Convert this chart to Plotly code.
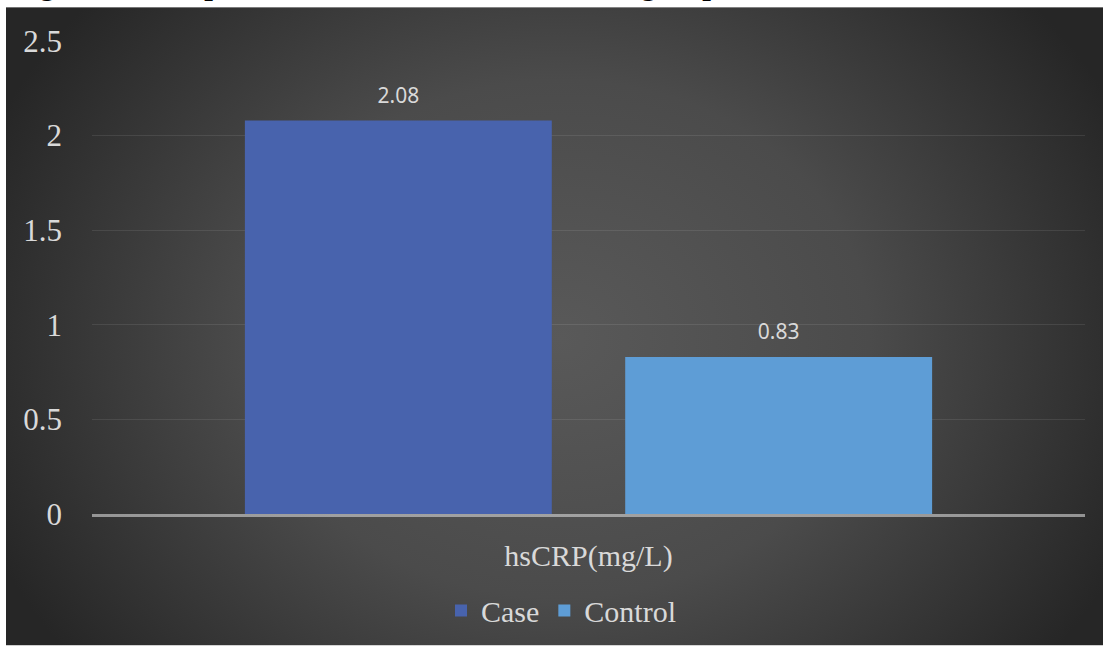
import base64
import plotly.graph_objects as go

# ---- data ----
categories = ["hsCRP(mg/L)"]
series_names = ["Case", "Control"]
case_values = [2.08]
control_values = [0.83]
y_ticks = [0, 0.5, 1, 1.5, 2, 2.5]

# ---- canvas / plot-area geometry (pixels) ----
W, H = 1103, 648
ML, MR, MT, MB = 92, 18, 41, 132
PW, PH = W - ML - MR, H - MT - MB


def px_to_paper_x(px):
    return (px - ML) / PW


def px_to_paper_y(py):
    return (H - MB - py) / PH


# dark panel with a soft radial gradient behind the chart
PANEL_X0, PANEL_Y0 = 6, 7
PANEL_W, PANEL_H = W - PANEL_X0, H - PANEL_Y0
bg_svg = f"""<svg xmlns="http://www.w3.org/2000/svg" width="{PANEL_W}" height="{PANEL_H}"
 viewBox="0 0 {PANEL_W} {PANEL_H}" preserveAspectRatio="none">
<defs><radialGradient id="bg" gradientUnits="userSpaceOnUse" cx="0" cy="0" r="1"
 gradientTransform="translate(554,333) scale(620,520)">
<stop offset="0" stop-color="#595959"/>
<stop offset="0.5" stop-color="#4b4b4b"/>
<stop offset="1" stop-color="#262626"/>
</radialGradient></defs>
<rect x="0" y="0" width="{PANEL_W}" height="{PANEL_H}" fill="url(#bg)"/>
</svg>"""
bg_uri = "data:image/svg+xml;base64," + base64.b64encode(bg_svg.encode()).decode()

LABEL_COLOR = "#d9d9d9"
SERIF = "Liberation Serif"

bar_colors = {"Case": "#4863ad", "Control": "#5e9dd6"}
values = {"Case": case_values, "Control": control_values}

fig = go.Figure()
for name in series_names:
    fig.add_trace(go.Bar(
        name=name,
        x=categories,
        y=values[name],
        marker=dict(color=bar_colors[name], line=dict(width=0)),
        texttemplate="<span style='font-size:21px'>%{y:.2f}</span><br>\u00a0",
        textposition="outside",
        textfont=dict(family="Noto Sans", size=9, color=LABEL_COLOR),
        cliponaxis=False,
        hoverinfo="skip",
    ))

fig.update_layout(
    width=W,
    height=H,
    margin=dict(l=ML, r=MR, t=MT, b=MB, pad=0),
    paper_bgcolor="white",
    plot_bgcolor="rgba(0,0,0,0)",
    barmode="group",
    bargap=0.234,
    bargroupgap=0.193,
    showlegend=True,
    legend=dict(
        orientation="h",
        x=px_to_paper_x(561),
        xanchor="center",
        y=px_to_paper_y(613),
        yanchor="middle",
        font=dict(family=SERIF, size=30, color=LABEL_COLOR),
        bgcolor="rgba(0,0,0,0)",
        itemclick=False,
        itemwidth=30,
    ),
    images=[dict(
        source=bg_uri,
        xref="paper", yref="paper",
        x=px_to_paper_x(PANEL_X0), y=px_to_paper_y(PANEL_Y0),
        sizex=PANEL_W / PW, sizey=PANEL_H / PH,
        xanchor="left", yanchor="top",
        sizing="stretch",
        layer="below",
    )],
    annotations=[dict(
        text="<b>Figure 2: Comparison of hsCRP levels between groups</b>",
        xref="paper", yref="paper",
        x=px_to_paper_x(10), y=px_to_paper_y(3),
        xanchor="left", yanchor="bottom",
        showarrow=False,
        font=dict(family=SERIF, size=31, color="black"),
    )],
    xaxis=dict(
        type="category",
        showgrid=False,
        zeroline=False,
        showline=True,
        linecolor="rgba(217,217,217,0.6)",
        linewidth=2.5,
        layer="above traces",
        ticks="",
        ticklabelstandoff=13,
        tickfont=dict(family=SERIF, size=30, color=LABEL_COLOR),
        fixedrange=True,
    ),
    yaxis=dict(
        range=[0, 2.5],
        tickvals=y_ticks,
        ticktext=[f"{v:g}" for v in y_ticks],
        showgrid=True,
        gridcolor="rgba(255,255,255,0.09)",
        gridwidth=1.3,
        zeroline=False,
        showline=False,
        ticks="",
        ticklabelstandoff=29,
        tickfont=dict(family=SERIF, size=31, color=LABEL_COLOR),
        fixedrange=True,
    ),
)

fig.write_html("out.html", config={"displayModeBar": False, "staticPlot": True})
